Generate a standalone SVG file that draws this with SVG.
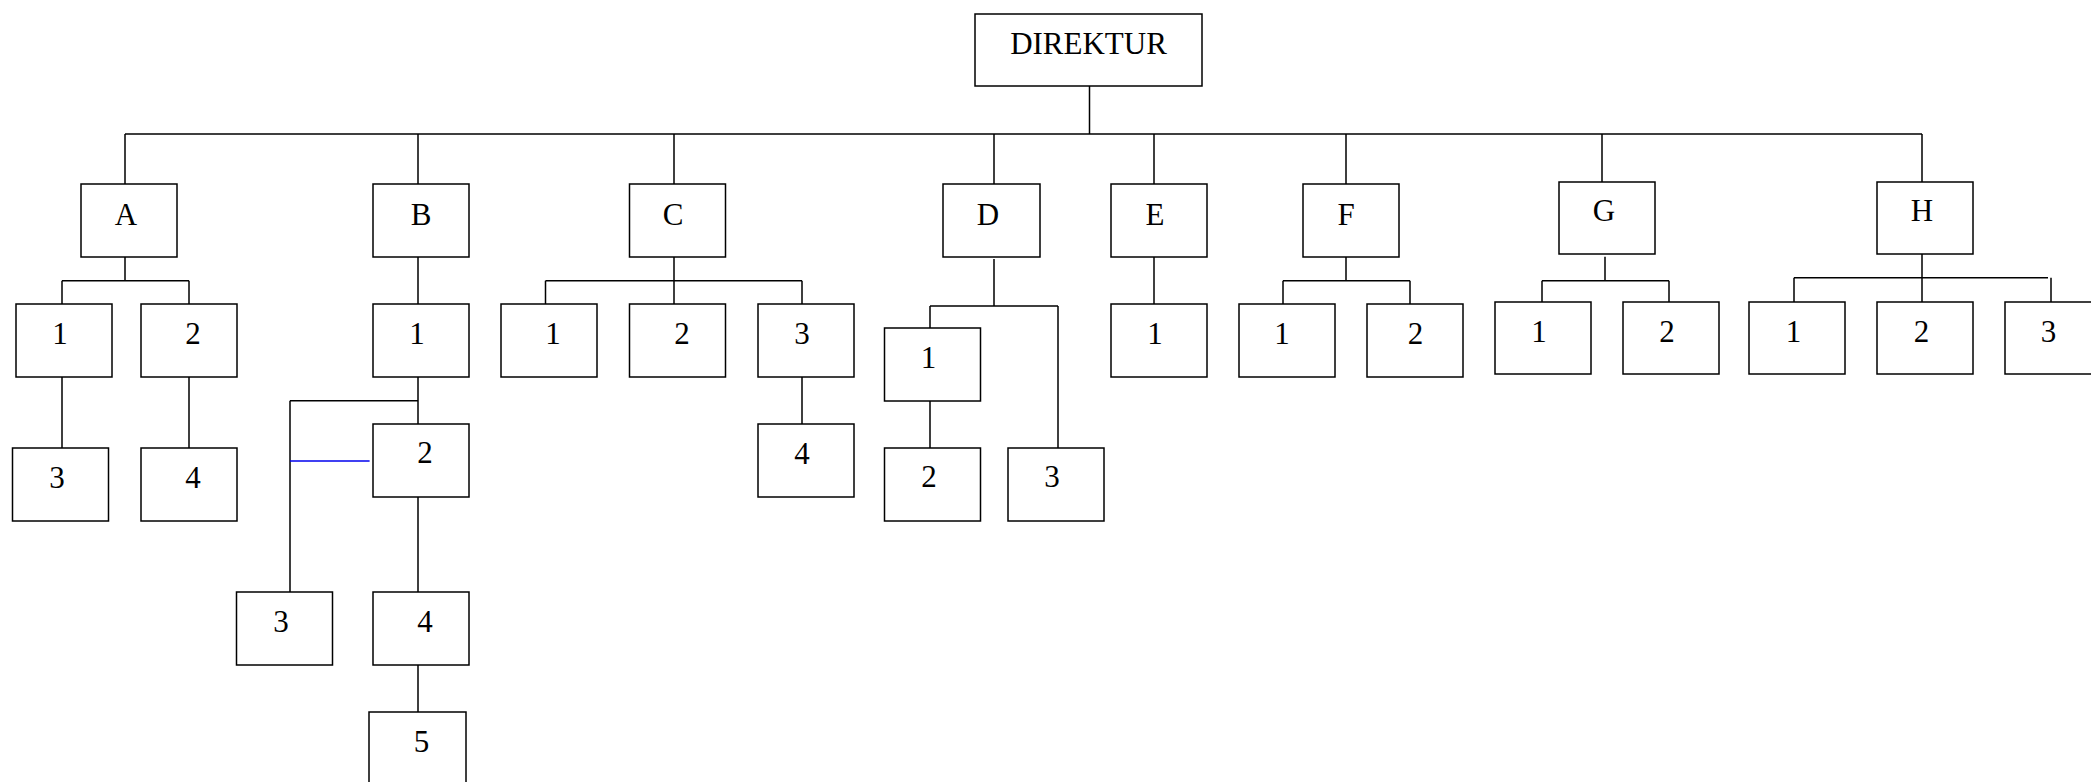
<svg xmlns="http://www.w3.org/2000/svg" width="2091" height="782" viewBox="0 0 2091 782">
<style>
.box{fill:#fff;stroke:#000;stroke-width:1.5}
.t{font-family:"Liberation Serif","Times New Roman",serif;font-size:31px;fill:#000;text-anchor:middle}
.ln{stroke:#000;stroke-width:1.5;fill:none}
.blue{stroke:#0000ee;stroke-width:1.5;fill:none}
</style>
<rect width="2091" height="782" fill="#fff"/>
<g id="connectors">
<path class="ln" d="M1089.5,86V134M125,134H1922M125,134V184M418,134V184M674,134V184M994,134V184M1154,134V184M1346,134V184M1602,134V182M1922,134V182"/>
<path class="ln" d="M125,257V280.7M62,280.7H189M62,280.7V304M189,280.7V304M62,377V448M189,377V448"/>
<path class="ln" d="M418,257V304M418,377V424M290,400.7H418M290,400.7V592M418,497V592M418,665V712"/>
<path class="blue" d="M290,461H369.6"/>
<path class="ln" d="M674,257V304M545.5,280.7H802M545.5,280.7V304M802,280.7V304M802,377V424"/>
<path class="ln" d="M994,259V306M930,306H1058M930,306V328M1058,306V448M930,401V448"/>
<path class="ln" d="M1154,257V304"/>
<path class="ln" d="M1346,257V280.7M1283,280.7H1410M1283,280.7V304M1410,280.7V304"/>
<path class="ln" d="M1605,256.7V280.7M1542,280.7H1669M1542,280.7V302M1669,280.7V302"/>
<path class="ln" d="M1922,254V302M1794,277.7H2048M1794,277.7V302M2051,277.7V302"/>
</g>
<g id="direktur"><rect class="box" x="975" y="14" width="227" height="72"/><text class="t" x="1088.5" y="53.5">DIREKTUR</text></g>
<g id="A"><rect class="box" x="81" y="184" width="96" height="73"/><text class="t" x="126" y="225">A</text></g>
<g id="B"><rect class="box" x="373" y="184" width="96" height="73"/><text class="t" x="421" y="225">B</text></g>
<g id="C"><rect class="box" x="629.5" y="184" width="96" height="73"/><text class="t" x="673" y="225">C</text></g>
<g id="D"><rect class="box" x="943" y="184" width="97" height="73"/><text class="t" x="988" y="225">D</text></g>
<g id="E"><rect class="box" x="1111" y="184" width="96" height="73"/><text class="t" x="1155" y="225">E</text></g>
<g id="F"><rect class="box" x="1303" y="184" width="96" height="73"/><text class="t" x="1346" y="225">F</text></g>
<g id="G"><rect class="box" x="1559" y="182" width="96" height="72"/><text class="t" x="1604" y="221">G</text></g>
<g id="H"><rect class="box" x="1877" y="182" width="96" height="72"/><text class="t" x="1922" y="221">H</text></g>
<g id="A1"><rect class="box" x="16" y="304" width="96" height="73"/><text class="t" x="60" y="344">1</text></g>
<g id="A2"><rect class="box" x="141" y="304" width="96" height="73"/><text class="t" x="193" y="344">2</text></g>
<g id="A3"><rect class="box" x="12.5" y="448" width="96" height="73"/><text class="t" x="57" y="488">3</text></g>
<g id="A4"><rect class="box" x="141" y="448" width="96" height="73"/><text class="t" x="193" y="488">4</text></g>
<g id="B1"><rect class="box" x="373" y="304" width="96" height="73"/><text class="t" x="417" y="344">1</text></g>
<g id="B2"><rect class="box" x="373" y="424" width="96" height="73"/><text class="t" x="425" y="463">2</text></g>
<g id="B3"><rect class="box" x="236.5" y="592" width="96" height="73"/><text class="t" x="281" y="632">3</text></g>
<g id="B4"><rect class="box" x="373" y="592" width="96" height="73"/><text class="t" x="425" y="632">4</text></g>
<g id="B5"><rect class="box" x="369" y="712" width="97" height="73"/><text class="t" x="421.5" y="752">5</text></g>
<g id="C1"><rect class="box" x="501" y="304" width="96" height="73"/><text class="t" x="553" y="344">1</text></g>
<g id="C2"><rect class="box" x="629.5" y="304" width="96" height="73"/><text class="t" x="682" y="344">2</text></g>
<g id="C3"><rect class="box" x="758" y="304" width="96" height="73"/><text class="t" x="802" y="344">3</text></g>
<g id="C4"><rect class="box" x="758" y="424" width="96" height="73"/><text class="t" x="802" y="464">4</text></g>
<g id="D1"><rect class="box" x="884.5" y="328" width="96" height="73"/><text class="t" x="928.5" y="368">1</text></g>
<g id="D2"><rect class="box" x="884.5" y="448" width="96" height="73"/><text class="t" x="929" y="487">2</text></g>
<g id="D3"><rect class="box" x="1008" y="448" width="96" height="73"/><text class="t" x="1052" y="487">3</text></g>
<g id="E1"><rect class="box" x="1111" y="304" width="96" height="73"/><text class="t" x="1155" y="344">1</text></g>
<g id="F1"><rect class="box" x="1239" y="304" width="96" height="73"/><text class="t" x="1282" y="344">1</text></g>
<g id="F2"><rect class="box" x="1367" y="304" width="96" height="73"/><text class="t" x="1415.5" y="344">2</text></g>
<g id="G1"><rect class="box" x="1495" y="302" width="96" height="72"/><text class="t" x="1539" y="342">1</text></g>
<g id="G2"><rect class="box" x="1623" y="302" width="96" height="72"/><text class="t" x="1667" y="342">2</text></g>
<g id="H1"><rect class="box" x="1749" y="302" width="96" height="72"/><text class="t" x="1793.5" y="342">1</text></g>
<g id="H2"><rect class="box" x="1877" y="302" width="96" height="72"/><text class="t" x="1921.5" y="342">2</text></g>
<g id="H3"><rect class="box" x="2005" y="302" width="96" height="72"/><text class="t" x="2048.5" y="342">3</text></g>
</svg>
